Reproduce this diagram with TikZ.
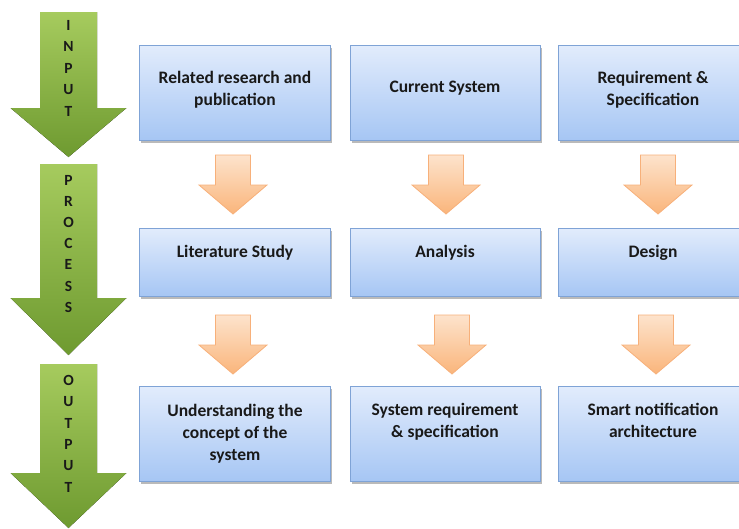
\documentclass[tikz,border=0pt]{standalone}
\usepackage{fontspec}
\setmainfont{Carlito}
\usetikzlibrary{shadows}
\definecolor{gtop}{HTML}{A6CB5E}
\definecolor{gbot}{HTML}{6E9A30}
\definecolor{btop}{HTML}{E2ECFC}
\definecolor{bbot}{HTML}{A6C6F4}
\definecolor{bline}{HTML}{7FA3D6}
\definecolor{otop}{HTML}{FDE3CC}
\definecolor{obot}{HTML}{FAB57B}
\definecolor{oline}{HTML}{F7B07A}
\tikzset{
  bbox/.style={draw=bline, line width=0.8pt, top color=btop, bottom color=bbot,
    drop shadow={shadow xshift=1.5pt, shadow yshift=-2.5pt, fill=black!45, opacity=0.6},
    inner sep=0pt},
  btext/.style={font=\fontsize{17.5}{22}\selectfont\bfseries, align=center, anchor=base, inner sep=0pt, text=black!90},
  garrowstyle/.style={top color=gtop, bottom color=gbot},
  oarrowstyle/.style={draw=oline, line width=0.8pt, top color=otop, bottom color=obot},
  gletter/.style={font=\fontsize{15.5}{15.5}\selectfont\bfseries, inner sep=0pt, text=black!90}
}
\newcommand\garrowpath[4]{%
  \fill[garrowstyle] ({#1-28.5},-#2) -- ({#1+28.5},-#2) -- ({#1+28.5},-#3) -- ({#1+58},-#3)
    -- (#1,-#4) -- ({#1-58},-#3) -- ({#1-28.5},-#3) -- cycle;}
\newcommand\oarrowpath[2]{%
  \path[oarrowstyle] ({#1-17.5},-#2) -- ({#1+17.5},-#2) -- ({#1+17.5},{-#2-30}) -- ({#1+34},{-#2-30})
    -- (#1,{-#2-59}) -- ({#1-34},{-#2-30}) -- ({#1-17.5},{-#2-30}) -- cycle;}
\begin{document}
\begin{tikzpicture}[x=1pt,y=1pt]
\useasboundingbox (0,0) rectangle (739,-528);
% green arrows
\garrowpath{68.5}{12}{108}{157}
\garrowpath{68.5}{164}{298}{355}
\garrowpath{68.5}{364}{473}{528}
% letters
\foreach \l [count=\i] in {I,N,P,U,T}
  \node[gletter] (in\i) at (68.5,{-25-21.5*(\i-1)}) {\l};
\foreach \l [count=\i] in {P,R,O,C,E,S,S}
  \node[gletter] (pr\i) at (68.5,{-180-21.2*(\i-1)}) {\l};
\foreach \l [count=\i] in {O,U,T,P,U,T}
  \node[gletter] (ou\i) at (68.5,{-380-21.5*(\i-1)}) {\l};
% boxes
\node[bbox, minimum width=191pt, minimum height=95pt] (b11) at (234.5,-92.5) {};
\node[bbox, minimum width=190pt, minimum height=95pt] (b12) at (445,-92.5) {};
\node[bbox, minimum width=191pt, minimum height=95pt] (b13) at (653.5,-92.5) {};
\node[bbox, minimum width=191pt, minimum height=68pt] (b21) at (234.5,-262) {};
\node[bbox, minimum width=190pt, minimum height=68pt] (b22) at (445,-262) {};
\node[bbox, minimum width=191pt, minimum height=68pt] (b23) at (653.5,-262) {};
\node[bbox, minimum width=191pt, minimum height=95pt] (b31) at (234.5,-433.5) {};
\node[bbox, minimum width=190pt, minimum height=95pt] (b32) at (445,-433.5) {};
\node[bbox, minimum width=191pt, minimum height=95pt] (b33) at (653.5,-433.5) {};
% texts (anchor = baseline of last line)
\node[btext] (t11) at (235,-105.5) {Related research and\\publication};
\node[btext] (t12) at (445,-92.5) {Current System};
\node[btext] (t13) at (653,-105.5) {Requirement \&\\Specification};
\node[btext] (t21) at (235,-257.5) {Literature Study};
\node[btext] (t22) at (445,-257.5) {Analysis};
\node[btext] (t23) at (653,-257.5) {Design};
\node[btext] (t31) at (235,-460.5) {Understanding the\\concept of the\\system};
\node[btext] (t32) at (445,-437.5) {System requirement\\\& specification};
\node[btext] (t33) at (653,-437.5) {Smart notification\\architecture};
% orange arrows
\oarrowpath{233}{155}
\oarrowpath{446}{155}
\oarrowpath{658}{155}
\oarrowpath{233}{315}
\oarrowpath{452}{315}
\oarrowpath{656}{315}
\end{tikzpicture}
\end{document}
